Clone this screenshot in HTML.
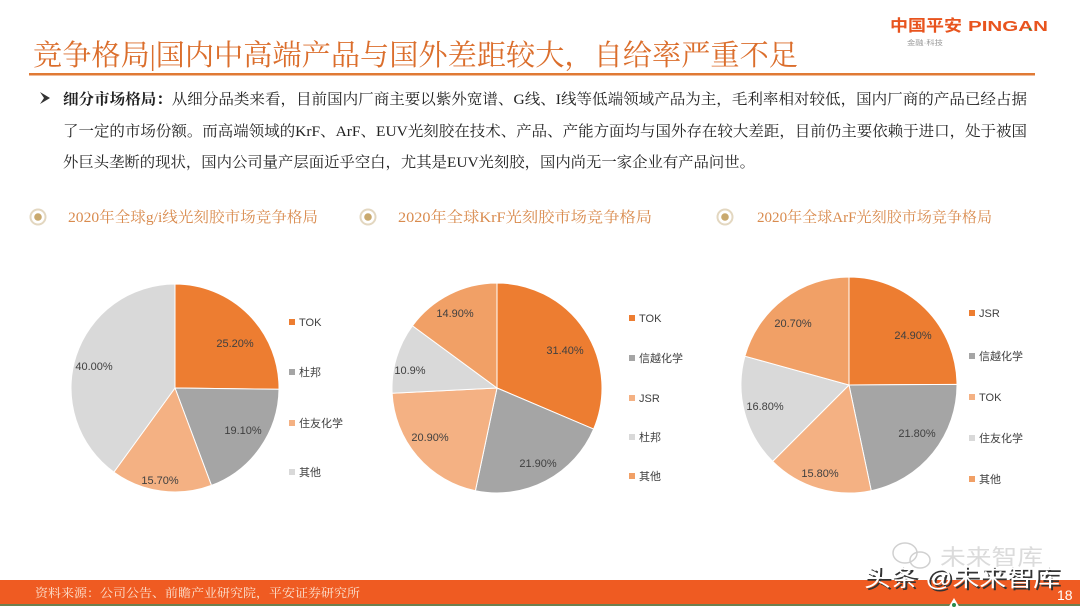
<!DOCTYPE html>
<html><head><meta charset="utf-8"><style>
html,body{margin:0;padding:0;background:#fff;}
svg{display:block;}
.cjk{font-family:"Liberation Serif","Noto Serif CJK SC",serif;}
.sans{font-family:"Liberation Sans","Noto Sans CJK SC",sans-serif;}
</style></head><body>
<svg width="1080" height="608" viewBox="0 0 1080 608" xmlns="http://www.w3.org/2000/svg">
<rect width="1080" height="608" fill="#fff"/>
<!-- logo -->
<text x="890" y="31" class="sans" font-size="16" font-weight="bold" fill="#E8541E" textLength="72" lengthAdjust="spacingAndGlyphs">中国平安</text>
<text x="968" y="31" class="sans" font-size="15" font-weight="bold" fill="#E8541E" textLength="80" lengthAdjust="spacingAndGlyphs">PINGAN</text>
<circle cx="1030" cy="29" r="1.3" fill="#2a8a4a"/>
<text x="907" y="45" class="sans" font-size="7" fill="#999" textLength="36" lengthAdjust="spacingAndGlyphs">金融·科技</text>
<!-- title -->
<text x="33" y="65" class="cjk" font-size="29" fill="#DB6E2C" textLength="765" lengthAdjust="spacingAndGlyphs">竞争格局|国内中高端产品与国外差距较大，自给率严重不足</text>
<rect x="29" y="73" width="1006" height="2.5" fill="#E07A35"/>
<!-- body -->
<path d="M40 92 L50 98 L40 104 L44 98 Z" fill="#333"/>
<text x="63" y="104" class="cjk" font-size="15" fill="#222" textLength="964" lengthAdjust="spacingAndGlyphs"><tspan font-weight="bold">细分市场格局：</tspan>从细分品类来看，目前国内厂商主要以紫外宽谱、G线、I线等低端领域产品为主，毛利率相对较低，国内厂商的产品已经占据</text>
<text x="63" y="136" class="cjk" font-size="15" fill="#222" textLength="964" lengthAdjust="spacingAndGlyphs">了一定的市场份额。而高端领域的KrF、ArF、EUV光刻胶在技术、产品、产能方面均与国外存在较大差距，目前仍主要依赖于进口，处于被国</text>
<text x="63" y="167" class="cjk" font-size="15" fill="#222" textLength="692" lengthAdjust="spacingAndGlyphs">外巨头垄断的现状，国内公司量产层面近乎空白，尤其是EUV光刻胶，国内尚无一家企业有产品问世。</text>
<!-- section headings -->
<g>
<circle cx="38" cy="217" r="7.5" fill="none" stroke="#E3D7C0" stroke-width="2"/><circle cx="38" cy="217" r="3.8" fill="#C9A96E"/>
<text x="68" y="222" class="cjk" font-size="15" fill="#D98B4E" textLength="250" lengthAdjust="spacingAndGlyphs">2020年全球g/i线光刻胶市场竞争格局</text>
<circle cx="368" cy="217" r="7.5" fill="none" stroke="#E3D7C0" stroke-width="2"/><circle cx="368" cy="217" r="3.8" fill="#C9A96E"/>
<text x="398" y="222" class="cjk" font-size="15" fill="#D98B4E" textLength="254" lengthAdjust="spacingAndGlyphs">2020年全球KrF光刻胶市场竞争格局</text>
<circle cx="725" cy="217" r="7.5" fill="none" stroke="#E3D7C0" stroke-width="2"/><circle cx="725" cy="217" r="3.8" fill="#C9A96E"/>
<text x="757" y="222" class="cjk" font-size="15" fill="#D98B4E" textLength="235" lengthAdjust="spacingAndGlyphs">2020年全球ArF光刻胶市场竞争格局</text>
</g>
<!-- pie 1 -->
<g stroke="#fff" stroke-width="1">
<path d="M175 388 L175 284 A104 104 0 0 1 278.99 389.31 Z" fill="#ED7D31"/>
<path d="M175 388 L278.99 389.31 A104 104 0 0 1 211.46 485.40 Z" fill="#A5A5A5"/>
<path d="M175 388 L211.46 485.40 A104 104 0 0 1 113.87 472.14 Z" fill="#F4B183"/>
<path d="M175 388 L113.87 472.14 A104 104 0 0 1 175 284 Z" fill="#D9D9D9"/>
</g>
<g class="sans" font-size="11" fill="#404040" text-anchor="middle">
<text x="235" y="347">25.20%</text>
<text x="243" y="434">19.10%</text>
<text x="160" y="484">15.70%</text>
<text x="94" y="370">40.00%</text>
</g>
<g class="sans" font-size="11" fill="#404040">
<rect x="289" y="319" width="6" height="6" fill="#ED7D31"/><text x="299" y="326">TOK</text>
<rect x="289" y="369" width="6" height="6" fill="#A5A5A5"/><text x="299" y="376">杜邦</text>
<rect x="289" y="420" width="6" height="6" fill="#F4B183"/><text x="299" y="427">住友化学</text>
<rect x="289" y="469" width="6" height="6" fill="#D9D9D9"/><text x="299" y="476">其他</text>
</g>
<!-- pie 2 -->
<g stroke="#fff" stroke-width="1">
<path d="M497 388 L497 283 A105 105 0 0 1 593.62 429.09 Z" fill="#ED7D31"/>
<path d="M497 388 L593.62 429.09 A105 105 0 0 1 475.38 490.75 Z" fill="#A5A5A5"/>
<path d="M497 388 L475.38 490.75 A105 105 0 0 1 392.13 393.28 Z" fill="#F4B183"/>
<path d="M497 388 L392.13 393.28 A105 105 0 0 1 412.43 325.77 Z" fill="#D9D9D9"/>
<path d="M497 388 L412.43 325.77 A105 105 0 0 1 497 283 Z" fill="#F1A066"/>
</g>
<g class="sans" font-size="11" fill="#404040" text-anchor="middle">
<text x="565" y="354">31.40%</text>
<text x="538" y="467">21.90%</text>
<text x="430" y="441">20.90%</text>
<text x="410" y="374">10.9%</text>
<text x="455" y="317">14.90%</text>
</g>
<g class="sans" font-size="11" fill="#404040">
<rect x="629" y="315" width="6" height="6" fill="#ED7D31"/><text x="639" y="322">TOK</text>
<rect x="629" y="355" width="6" height="6" fill="#A5A5A5"/><text x="639" y="362">信越化学</text>
<rect x="629" y="395" width="6" height="6" fill="#F4B183"/><text x="639" y="402">JSR</text>
<rect x="629" y="434" width="6" height="6" fill="#D9D9D9"/><text x="639" y="441">杜邦</text>
<rect x="629" y="473" width="6" height="6" fill="#F1A066"/><text x="639" y="480">其他</text>
</g>
<!-- pie 3 -->
<g stroke="#fff" stroke-width="1">
<path d="M849 385 L849 277 A108 108 0 0 1 957 384.32 Z" fill="#ED7D31"/>
<path d="M849 385 L957 384.32 A108 108 0 0 1 871.24 490.69 Z" fill="#A5A5A5"/>
<path d="M849 385 L871.24 490.69 A108 108 0 0 1 772.63 461.37 Z" fill="#F4B183"/>
<path d="M849 385 L772.63 461.37 A108 108 0 0 1 744.92 356.17 Z" fill="#D9D9D9"/>
<path d="M849 385 L744.92 356.17 A108 108 0 0 1 849 277 Z" fill="#F1A066"/>
</g>
<g class="sans" font-size="11" fill="#404040" text-anchor="middle">
<text x="913" y="339">24.90%</text>
<text x="917" y="437">21.80%</text>
<text x="820" y="477">15.80%</text>
<text x="765" y="410">16.80%</text>
<text x="793" y="327">20.70%</text>
</g>
<g class="sans" font-size="11" fill="#404040">
<rect x="969" y="310" width="6" height="6" fill="#ED7D31"/><text x="979" y="317">JSR</text>
<rect x="969" y="353" width="6" height="6" fill="#A5A5A5"/><text x="979" y="360">信越化学</text>
<rect x="969" y="394" width="6" height="6" fill="#F4B183"/><text x="979" y="401">TOK</text>
<rect x="969" y="435" width="6" height="6" fill="#D9D9D9"/><text x="979" y="442">住友化学</text>
<rect x="969" y="476" width="6" height="6" fill="#F1A066"/><text x="979" y="483">其他</text>
</g>
<!-- footer -->
<rect x="0" y="580" width="1080" height="24" fill="#EF5B22"/>
<rect x="0" y="604" width="1080" height="2" fill="#6E7F4F"/>
<text x="35" y="597" class="cjk" font-size="12" fill="#FBE3D2" textLength="325" lengthAdjust="spacingAndGlyphs">资料来源：公司公告、前瞻产业研究院，平安证券研究所</text>
<text x="1057" y="600" class="sans" font-size="14" fill="#fff">18</text>
<path d="M948 608 L954 598 L960 608 Z" fill="#fff"/><circle cx="954" cy="605" r="2" fill="#2a8a4a"/>
<!-- watermark -->
<g opacity="0.55" fill="none" stroke="#aaa" stroke-width="1.5">
<ellipse cx="905" cy="553" rx="12" ry="10"/><ellipse cx="920" cy="560" rx="10" ry="8"/>
</g>
<text x="940" y="565" class="sans" font-size="22" fill="#ccc" opacity="0.7" textLength="103" lengthAdjust="spacingAndGlyphs">未来智库</text>
<text x="866" y="588" class="sans" font-size="24" fill="#333" textLength="196" lengthAdjust="spacingAndGlyphs">头条 @未来智库</text>
<text x="864" y="586" class="sans" font-size="24" fill="#fff" textLength="196" lengthAdjust="spacingAndGlyphs">头条 @未来智库</text>
</svg>
</body></html>
